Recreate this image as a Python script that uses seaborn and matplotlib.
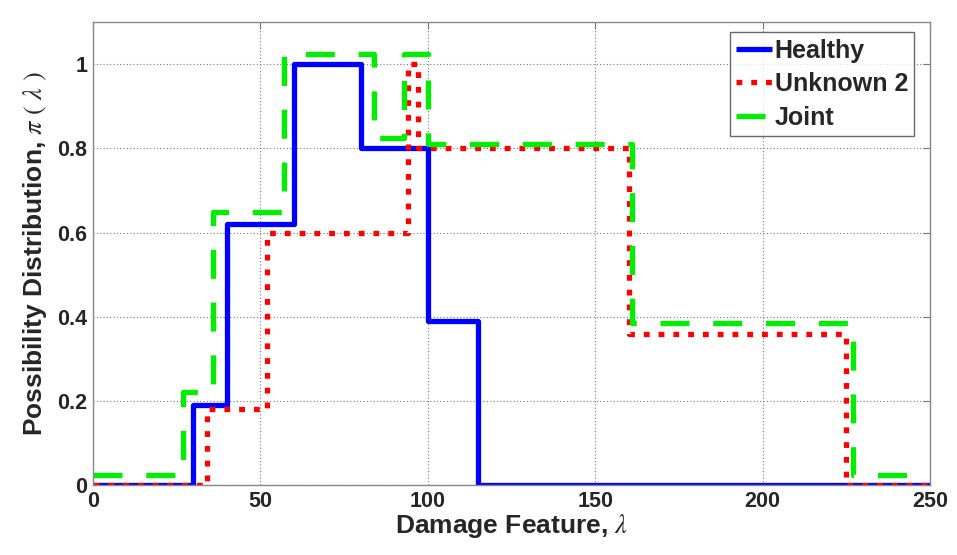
import matplotlib
matplotlib.use("Agg")
import matplotlib.pyplot as plt
import seaborn as sns
import pandas as pd

# Step edges (damage feature) and possibility levels for each distribution
healthy_x = [0, 30, 40, 60, 80, 100, 115, 250]
healthy_y = [0, 0.19, 0.62, 1.0, 0.80, 0.39, 0, 0]

unknown2_x = [0, 34, 52, 94, 97, 160, 225, 250]
unknown2_y = [0, 0.18, 0.60, 1.0, 0.80, 0.36, 0, 0]

joint_x = [0, 27, 36, 57, 84, 93, 100, 161, 227, 250]
joint_y = [0.025, 0.22, 0.65, 1.025, 0.825, 1.025, 0.81, 0.385, 0.025, 0.025]

series_names = ["Healthy", "Unknown 2", "Joint"]
x_ticks = [0, 50, 100, 150, 200, 250]
y_ticks = [0, 0.2, 0.4, 0.6, 0.8, 1.0]
y_tick_labels = ["0", "0.2", "0.4", "0.6", "0.8", "1"]

sns.set_style("white")
plt.rcParams["font.family"] = ["Liberation Sans", "DejaVu Sans"]
plt.rcParams["mathtext.fontset"] = "stix"

fig = plt.figure(figsize=(9.57, 5.55), dpi=100)
ax = fig.add_axes([0.097, 0.126, 0.875, 0.834])

frames = [
    pd.DataFrame({"x": healthy_x, "y": healthy_y}),
    pd.DataFrame({"x": unknown2_x, "y": unknown2_y}),
    pd.DataFrame({"x": joint_x, "y": joint_y}),
]
styles = [
    dict(color="#0000ff", linestyle="-"),
    dict(color="#ff0000", linestyle=(0, (1.1, 1.7))),
    dict(color="#00ee00", linestyle=(0, (5.5, 4.5))),
]

for df, name, st in zip(frames, series_names, styles):
    sns.lineplot(data=df, x="x", y="y", ax=ax, estimator=None, sort=False,
                 drawstyle="steps-post", linewidth=3.8, label=name,
                 solid_capstyle="butt", dash_capstyle="butt", **st)

ax.set_xlim(0, 250)
ax.set_ylim(0, 1.1)
ax.set_xticks(x_ticks)
ax.set_yticks(y_ticks)
ax.set_yticklabels(y_tick_labels)
ax.grid(True, color="#777777", linestyle=(0, (1, 2)), linewidth=0.8)
ax.tick_params(direction="in", top=True, right=True, length=5, width=0.8,
               color="#777777", labelsize=15.5, pad=4)
for lab in ax.get_xticklabels() + ax.get_yticklabels():
    lab.set_fontweight("bold")
for sp in ax.spines.values():
    sp.set_color("#888888")
    sp.set_linewidth(1.0)

ax.set_xlabel(r"Damage Feature, $\lambda$", fontsize=19, fontweight="bold", labelpad=0)
ax.set_ylabel(r"Possibility Distribution, $\pi\ (\ \lambda\ )$", fontsize=19,
              fontweight="bold", labelpad=6)

leg = ax.legend(loc="upper right", bbox_to_anchor=(0.981, 0.978), fontsize=18,
                frameon=True, fancybox=False, handlelength=1.45, handletextpad=0.1,
                borderpad=0.25, labelspacing=0.38, borderaxespad=0)
leg.get_frame().set_edgecolor("#444444")
leg.get_frame().set_linewidth(1.0)
for t in leg.get_texts():
    t.set_fontweight("bold")

fig.savefig("out.png", dpi=100)
